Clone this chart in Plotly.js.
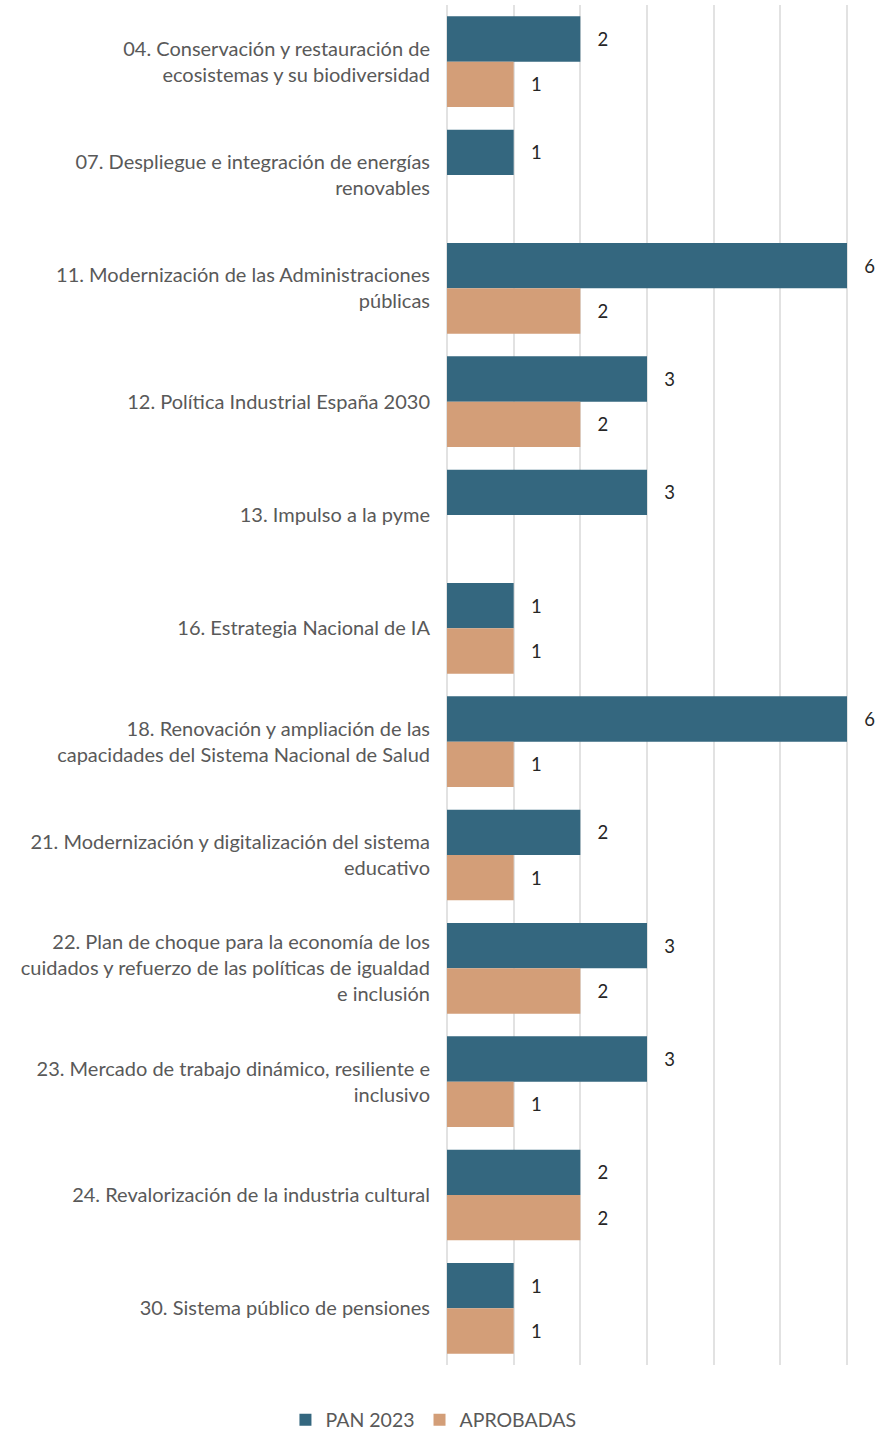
<!DOCTYPE html>
<html>
<head>
<meta charset="utf-8">
<script src="https://cdn.plot.ly/plotly-3.0.1.min.js"></script>
<style>html,body{margin:0;padding:0;background:#fff;}</style>
</head>
<body>
<div id="chart" style="width:881px;height:1433px;"></div>
<script>
const categories = [
  "04. Conservación y restauración de<br>ecosistemas y su biodiversidad",
  "07. Despliegue e integración de energías<br>renovables",
  "11. Modernización de las Administraciones<br>públicas",
  "12. Política Industrial España 2030",
  "13. Impulso a la pyme",
  "16. Estrategia Nacional de IA",
  "18. Renovación y ampliación de las<br>capacidades del Sistema Nacional de Salud",
  "21. Modernización y digitalización del sistema<br>educativo",
  "22. Plan de choque para la economía de los<br>cuidados y refuerzo de las políticas de igualdad<br>e inclusión",
  "23. Mercado de trabajo dinámico, resiliente e<br>inclusivo",
  "24. Revalorización de la industria cultural",
  "30. Sistema público de pensiones"
];
const pan2023 = [2, 1, 6, 3, 3, 1, 6, 2, 3, 3, 2, 1];
const aprobadas = [1, null, 2, 2, null, 1, 1, 1, 2, 1, 2, 1];
const xTicks = [0, 1, 2, 3, 4, 5, 6];

const FONT = "Lato, 'Open Sans', sans-serif";
const pad = "\u00a0\u00a0\u00a0";

const traces = [
  {
    type: "bar", orientation: "h", name: "PAN 2023",
    y: categories, x: pan2023,
    marker: {color: "#34677f"},
    text: pan2023.map(v => v == null ? "" : pad + v),
    textposition: "outside", cliponaxis: false,
    textfont: {family: FONT, size: 18.5, color: "#262626"},
    hoverinfo: "x"
  },
  {
    type: "bar", orientation: "h", name: "APROBADAS",
    y: categories, x: aprobadas,
    marker: {color: "#d39e78"},
    text: aprobadas.map(v => v == null ? "" : pad + v),
    textposition: "outside", cliponaxis: false,
    textfont: {family: FONT, size: 18.5, color: "#262626"},
    hoverinfo: "x"
  }
];

const layout = {
  width: 881, height: 1433,
  margin: {l: 447, r: 31, t: 5, b: 68},
  paper_bgcolor: "#fff", plot_bgcolor: "#fff",
  font: {family: FONT, size: 18, color: "#595959"},
  barmode: "group", bargap: 0.2, bargroupgap: 0,
  showlegend: true,
  xaxis: {
    range: [0, 6.045], tickvals: xTicks, showticklabels: false,
    showgrid: true, gridcolor: "#e2e2e2", gridwidth: 2,
    zeroline: true, zerolinecolor: "#e2e2e2", zerolinewidth: 2,
    showline: false, fixedrange: true
  },
  yaxis: {
    autorange: "reversed", type: "category",
    tickfont: {family: FONT, size: 20, color: "#595959"},
    ticks: "", ticklabelstandoff: 16, showgrid: false, showline: false,
    fixedrange: true
  },
  legend: {
    orientation: "h", xref: "container", yref: "container",
    x: 0.492, xanchor: "center", y: 0.009, yanchor: "middle",
    font: {family: FONT, size: 19.5, color: "#595959"},
    traceorder: "normal", itemwidth: 30
  }
};

Plotly.newPlot("chart", traces, layout, {displayModeBar: false, staticPlot: true});
</script>
</body>
</html>
